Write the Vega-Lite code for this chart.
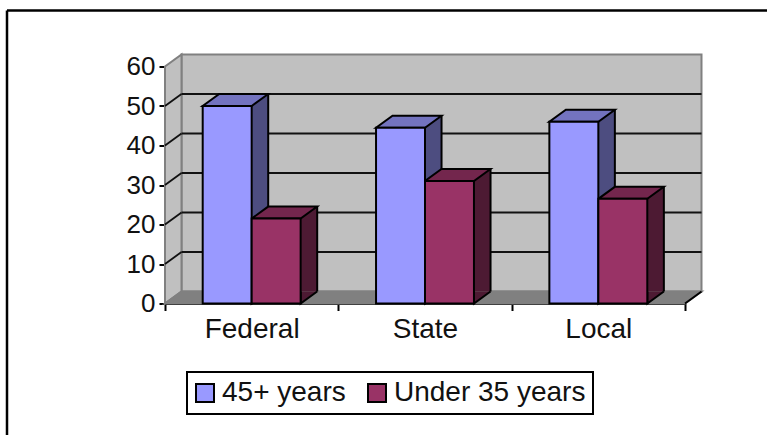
{
  "$schema": "https://vega.github.io/schema/vega-lite/v6.json",
  "width": 520,
  "height": 237,
  "autosize": "none",
  "padding": {"left": 165, "top": 66.5, "right": 82, "bottom": 131.5},
  "background": "white",
  "config": {
    "font": "Liberation Sans",
    "view": {"stroke": null},
    "legend": {"strokeWidth": 2},
    "axis": {"grid": false, "labelOverlap": false, "labelFont": "Liberation Sans", "titleFont": "Liberation Sans", "labelColor": "#111", "titleColor": "#111", "domainColor": "black", "tickColor": "black", "domainWidth": 2, "tickWidth": 2},
    "axisY": {"title": "%", "titleAngle": 0, "titleFontSize": 22, "titleFontWeight": "normal", "titleX": -64, "titleY": 133, "labelFontSize": 26, "labelOverlap": false, "labelBound": false, "tickSize": 6, "labelPadding": 4}
  },
  "datasets": {
    "shares": [
      {"sector": "Federal", "group": "45+ years", "pct": 50},
      {"sector": "Federal", "group": "Under 35 years", "pct": 21.5},
      {"sector": "State", "group": "45+ years", "pct": 44.5},
      {"sector": "State", "group": "Under 35 years", "pct": 31},
      {"sector": "Local", "group": "45+ years", "pct": 46},
      {"sector": "Local", "group": "Under 35 years", "pct": 26.5}
    ],
    "gridSteps": [{"level": 10}, {"level": 20}, {"level": 30}, {"level": 40}, {"level": 50}],
    "single": [{"level": 0}]
  },
  "layer": [
    {
      "description": "outer frame, top and left edges",
      "data": {"name": "single"},
      "mark": {"type": "rule", "color": "black", "strokeWidth": 2.5},
      "encoding": {"x": {"value": -158}, "x2": {"value": 602}, "y": {"value": -56}}
    },
    {
      "data": {"name": "single"},
      "mark": {"type": "rule", "color": "black", "strokeWidth": 2.5},
      "encoding": {"x": {"value": -158}, "y": {"value": -56}, "y2": {"value": 369}}
    },
    {
      "description": "back wall",
      "data": {"name": "single"},
      "mark": {"type": "rect", "fill": "#c0c0c0", "stroke": "#808080", "strokeWidth": 2, "xOffset": 16.5, "x2Offset": 16.5, "yOffset": -12, "y2Offset": -12},
      "encoding": {"x": {"value": 0}, "x2": {"value": "width"}, "y": {"value": 0}, "y2": {"value": "height"}}
    },
    {
      "description": "side wall",
      "data": {"name": "single"},
      "mark": {"type": "point", "filled": true, "fill": "#c0c0c0", "stroke": "#808080", "strokeWidth": 2, "opacity": 1, "size": 4, "shape": "M0,0 L16.5,-12 L16.5,-249 L0,-237 Z"},
      "encoding": {"x": {"value": 0}, "y": {"value": "height"}}
    },
    {
      "description": "floor",
      "data": {"name": "single"},
      "mark": {"type": "point", "filled": true, "fill": "#808080", "stroke": "#808080", "opacity": 1, "size": 4, "shape": "M0,0 L16.5,-12 L536.5,-12 L520,0 Z"},
      "encoding": {"x": {"value": 0}, "y": {"value": "height"}}
    },
    {
      "description": "floor corner edge",
      "data": {"name": "single"},
      "mark": {"type": "point", "filled": false, "stroke": "black", "strokeWidth": 2, "opacity": 1, "size": 4, "shape": "M0,0 L16.5,-12"},
      "encoding": {"x": {"value": "width"}, "y": {"value": "height"}}
    },
    {
      "description": "gridlines on the back wall",
      "data": {"name": "gridSteps"},
      "mark": {"type": "rule", "color": "#111", "strokeWidth": 1.8, "xOffset": 16.5, "x2Offset": 16.5, "yOffset": -12},
      "encoding": {"x": {"value": 0}, "x2": {"value": "width"}, "y": {"field": "level", "type": "quantitative", "axis": {"values": [0, 10, 20, 30, 40, 50, 60]}}}
    },
    {
      "description": "gridlines running across the side wall",
      "data": {"name": "gridSteps"},
      "mark": {"type": "point", "filled": false, "stroke": "#111", "strokeWidth": 1.8, "opacity": 1, "size": 4, "shape": "M0,0 L16.5,-12"},
      "encoding": {"x": {"value": 0}, "y": {"field": "level", "type": "quantitative", "axis": {"values": [0, 10, 20, 30, 40, 50, 60]}}}
    },
    {
      "data": {"name": "shares"},
      "layer": [
        {
          "description": "right face, older group",
          "transform": [{"filter": "datum.group === '45+ years'"}],
          "mark": {"type": "bar", "width": 16.5, "fill": "#4d4d80", "xOffset": 8.28, "yOffset": -12, "y2Offset": -12}
        },
        {
          "description": "rear edge, older group",
          "transform": [{"filter": "datum.group === '45+ years'"}],
          "mark": {"type": "bar", "width": 2, "fill": "black", "xOffset": 16.53, "yOffset": -12, "y2Offset": -12}
        },
        {
          "description": "right face, younger group",
          "transform": [{"filter": "datum.group === 'Under 35 years'"}],
          "mark": {"type": "bar", "width": 16.5, "fill": "#4d1a33", "xOffset": 57.28, "yOffset": -12, "y2Offset": -12}
        },
        {
          "description": "rear edge, younger group",
          "transform": [{"filter": "datum.group === 'Under 35 years'"}],
          "mark": {"type": "bar", "width": 2, "fill": "black", "xOffset": 65.53, "yOffset": -12, "y2Offset": -12}
        },
        {
          "description": "lower wedge of each right face",
          "mark": {"type": "point", "filled": true, "stroke": "black", "strokeWidth": 2, "opacity": 1, "size": 4, "shape": "M24.5,-12 L24.5,0 L41,-12"},
          "encoding": {
            "xOffset": {"field": "group", "type": "nominal", "scale": {"domain": ["45+ years", "Under 35 years"], "paddingInner": 0, "paddingOuter": 0.77}},
            "fill": {"condition": {"test": "datum.group === '45+ years'", "value": "#4d4d80"}, "value": "#4d1a33"},
            "y": {"datum": 0}
          }
        },
        {
          "description": "top faces of the columns",
          "mark": {"type": "point", "filled": true, "stroke": "black", "strokeWidth": 2, "opacity": 1, "size": 4, "shape": "M-24.5,0 L24.5,0 L41,-12 L-8,-12 Z"},
          "encoding": {
            "xOffset": {"field": "group", "type": "nominal", "scale": {"domain": ["45+ years", "Under 35 years"], "paddingInner": 0, "paddingOuter": 0.77}},
            "fill": {"condition": {"test": "datum.group === '45+ years'", "value": "#7373bf"}, "value": "#73264d"}
          }
        },
        {
          "description": "front faces of the columns",
          "mark": {"type": "bar", "stroke": "black", "strokeWidth": 2},
          "encoding": {
            "xOffset": {"field": "group", "type": "nominal", "scale": {"domain": ["45+ years", "Under 35 years"], "paddingInner": 0, "paddingOuter": 0.77}},
            "color": {
              "field": "group",
              "type": "nominal",
              "scale": {"domain": ["45+ years", "Under 35 years"], "range": ["#9999ff", "#993366"]},
              "legend": {
                "title": null,
                "orient": "none",
                "legendX": 22,
                "legendY": 305.5,
                "direction": "horizontal",
                "columns": 2,
                "symbolType": "square",
                "symbolSize": 324,
                "symbolStrokeColor": "black",
                "symbolStrokeWidth": 2,
                "symbolOpacity": 1,
                "symbolOffset": -3,
                "labelFont": "Liberation Sans",
                "labelFontSize": 28,
                "labelColor": "#111",
                "labelLimit": 300,
                "labelOffset": 3,
                "columnPadding": 18,
                "padding": 7,
                "strokeColor": "black",
                "fillColor": "white"
              }
            }
          }
        }
      ],
      "encoding": {
        "x": {
          "field": "sector",
          "type": "nominal",
          "scale": {"domain": ["Federal", "State", "Local"], "paddingInner": 0, "paddingOuter": 0},
          "axis": {"title": null, "labelAngle": 0, "labelFontSize": 28, "tickBand": "extent", "tickSize": 7, "labelPadding": 5}
        },
        "y": {
          "field": "pct",
          "type": "quantitative",
          "scale": {"domain": [0, 60]},
          "axis": {"values": [0, 10, 20, 30, 40, 50, 60]}
        }
      }
    }
  ]
}
